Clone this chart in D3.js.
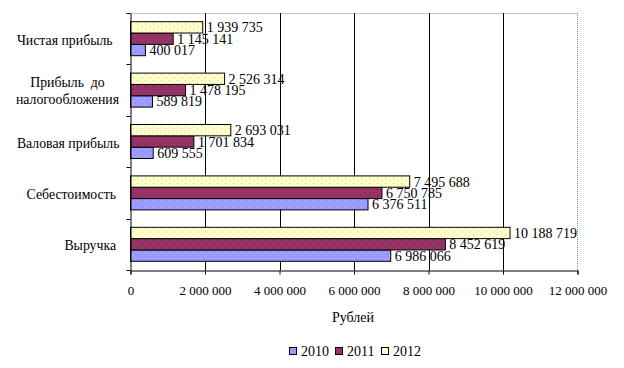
<!DOCTYPE html>
<html><head><meta charset="utf-8">
<script src="https://cdn.jsdelivr.net/npm/d3@7"></script>
<style>body{margin:0;background:#fff}svg text{font-family:"Liberation Serif","Times New Roman","DejaVu Serif",serif;white-space:pre}</style>
</head><body><svg id="c" width="624" height="368"></svg>
<script>
const categories = ["Выручка ", "Себестоимость ", "Валовая прибыль", "Прибыль  до налогообложения", "Чистая прибыль  "];
const years = ["2010", "2011", "2012"];
const v2010 = [6986066, 6376511, 609555, 589819, 400017];
const v2011 = [8452619, 6750785, 1701834, 1478195, 1145141];
const v2012 = [10188719, 7495688, 2693031, 2526314, 1939735];
const xTicks = [0, 2000000, 4000000, 6000000, 8000000, 10000000, 12000000];
const colors = ["#9999FF", "#993366", "#FFFFCC"];
const dotColors = ["#ccccff", "#333366", "#c8c8a0"];

const series = [v2010, v2011, v2012];
const svg = d3.select("#c");
const FF = "Liberation Serif, Times New Roman, DejaVu Serif, serif";
const L = 130.5, R = 577.5, T = 13, B = 270;
const GH = 34;
const fmt = v => d3.format(",")(v).replace(/,/g, " ");

const defs = svg.append("defs");
colors.forEach((c, i) => {
  const p = defs.append("pattern").attr("id", "p" + i).attr("patternUnits", "userSpaceOnUse")
    .attr("width", 8).attr("height", 6);
  p.append("rect").attr("width", 8).attr("height", 6).attr("fill", c);
  p.append("rect").attr("x", 1).attr("y", 1).attr("width", 1).attr("height", 1).attr("fill", dotColors[i]);
  p.append("rect").attr("x", 5).attr("y", 4).attr("width", 1).attr("height", 1).attr("fill", dotColors[i]);
});

const x = d3.scaleLinear().domain([0, 12000000]).range([L, R]);
const catOrder = categories.slice().reverse(); // top to bottom
const y = d3.scaleBand().domain(catOrder).range([T, B]);
const inner = d3.scaleBand().domain(["2012", "2011", "2010"]).range([0, GH]);

// plot border (dotted)
svg.append("line").attr("x1", L).attr("x2", R).attr("y1", T + 0.5).attr("y2", T + 0.5)
  .attr("stroke", "#888").attr("stroke-dasharray", "1,1");
svg.append("line").attr("x1", R).attr("x2", R).attr("y1", T).attr("y2", B)
  .attr("stroke", "#888").attr("stroke-dasharray", "1,1");

// gridlines
svg.append("g").selectAll("line").data(xTicks.slice(1, -1)).join("line")
  .attr("x1", d => Math.round(x(d)) + 0.5).attr("x2", d => Math.round(x(d)) + 0.5)
  .attr("y1", T).attr("y2", B).attr("stroke", "#000");

// bars
const groups = svg.append("g").selectAll("g").data(categories).join("g")
  .attr("transform", d => `translate(0,${y(d) + (y.bandwidth() - GH) / 2})`);
years.forEach((yr, si) => {
  groups.append("rect")
    .attr("x", x(0)).attr("y", inner(yr))
    .attr("width", (d, i) => x(series[si][i]) - x(0))
    .attr("height", inner.bandwidth())
    .attr("fill", `url(#p${si})`).attr("stroke", "#000").attr("stroke-width", 1);
});
years.forEach((yr, si) => {
  groups.append("text")
    .attr("x", (d, i) => x(series[si][i]) + 4)
    .attr("y", inner(yr) + inner.bandwidth() / 2 + 5)
    .attr("font-size", 14).attr("font-family", FF).attr("fill", "#000")
    .text((d, i) => fmt(series[si][i]));
});

// y axis
const yAxis = d3.axisLeft(y).tickSize(0).tickFormat("");
svg.append("g").attr("transform", `translate(${L},0)`).call(yAxis)
  .call(g => g.select(".domain").attr("stroke", "#000"));
svg.append("g").selectAll("line").data(catOrder).join("line")
  .attr("x1", L - 4).attr("x2", L)
  .attr("y1", (d, i) => Math.round(y(catOrder[0]) + y.step() * (i + 1)) + 0.5)
  .attr("y2", (d, i) => Math.round(y(catOrder[0]) + y.step() * (i + 1)) + 0.5)
  .attr("stroke", "#000");
svg.append("line").attr("x1", L - 4).attr("x2", L).attr("y1", T + 0.5).attr("y2", T + 0.5).attr("stroke", "#000");

// category labels
categories.forEach(c => {
  const cy = y(c) + y.bandwidth() / 2;
  const parts = c === "Прибыль  до налогообложения" ? ["Прибыль  до", "налогообложения"] : [c];
  if (parts.length === 1) {
    svg.append("text").attr("x", 119.5).attr("y", cy + 6).attr("text-anchor", "end")
      .attr("font-size", 13.8).attr("font-family", FF).text(c);
  } else {
    const t = svg.append("text").attr("x", 67.5).attr("y", cy - 3).attr("text-anchor", "middle")
      .attr("font-size", 13.8).attr("font-family", FF);
    t.append("tspan").attr("x", 67.5).attr("dy", 0).text(parts[0]);
    t.append("tspan").attr("x", 67.5).attr("dy", 17).text(parts[1]);
  }
});

// x axis
const xAxis = d3.axisBottom(x).tickValues(xTicks).tickSize(4).tickPadding(11).tickFormat(fmt);
svg.append("g").attr("transform", `translate(0,${B + 0.5})`).call(xAxis)
  .call(g => g.select(".domain").attr("stroke", "#000"))
  .call(g => g.selectAll(".tick line").attr("stroke", "#000"))
  .call(g => g.selectAll(".tick text").attr("font-size", 13).attr("font-family", FF).attr("fill", "#000"));

svg.append("text").attr("x", 353).attr("y", 322).attr("text-anchor", "middle").attr("font-size", 14).attr("font-family", FF).text("Рублей");

// legend
const lx = [289, 335, 381];
years.forEach((yr, i) => {
  svg.append("rect").attr("x", lx[i] + 0.5).attr("y", 347.5).attr("width", 7).attr("height", 7)
    .attr("fill", colors[i]).attr("stroke", "#000");
  svg.append("text").attr("x", lx[i] + 12).attr("y", 356).attr("font-size", 14).attr("font-family", FF).text(yr);
});
</script></body></html>
